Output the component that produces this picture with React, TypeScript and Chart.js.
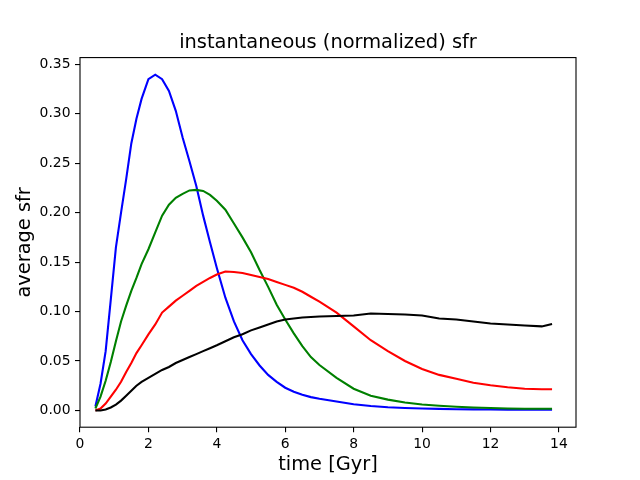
import React, { useEffect, useRef } from "react";
import { Chart, registerables } from "chart.js";

Chart.register(...registerables);

const times = [0.45, 0.6, 0.75, 0.9, 1.05, 1.2, 1.35, 1.5, 1.65, 1.8, 2.0, 2.2, 2.4, 2.6, 2.8, 3.0, 3.2, 3.4, 3.6, 3.8, 4.0, 4.25, 4.5, 4.75, 5.0, 5.25, 5.5, 5.75, 6.0, 6.25, 6.5, 6.75, 7.0, 7.5, 8.0, 8.5, 9.0, 9.5, 10.0, 10.5, 11.0, 11.5, 12.0, 12.5, 13.0, 13.5, 13.8];

const blueSfr = [0.004, 0.027, 0.06, 0.112, 0.165, 0.2, 0.234, 0.27, 0.295, 0.315, 0.335, 0.3395, 0.335, 0.323, 0.303, 0.276, 0.252, 0.227, 0.197, 0.17, 0.144, 0.114, 0.09, 0.071, 0.057, 0.0455, 0.036, 0.029, 0.023, 0.019, 0.016, 0.0135, 0.0118, 0.009, 0.0063, 0.0045, 0.0033, 0.0025, 0.002, 0.0016, 0.0013, 0.0011, 0.001, 0.0009, 0.0008, 0.0007, 0.0007];

const greenSfr = [0.002, 0.014, 0.03, 0.049, 0.07, 0.09, 0.106, 0.121, 0.134, 0.148, 0.163, 0.18, 0.197, 0.208, 0.215, 0.219, 0.2225, 0.223, 0.222, 0.218, 0.212, 0.203, 0.189, 0.175, 0.16, 0.142, 0.125, 0.107, 0.092, 0.078, 0.065, 0.054, 0.046, 0.033, 0.022, 0.015, 0.011, 0.008, 0.006, 0.0048, 0.0038, 0.003, 0.0025, 0.002, 0.0018, 0.0017, 0.0017];

const redSfr = [0, 0.002, 0.007, 0.014, 0.021, 0.029, 0.039, 0.048, 0.058, 0.066, 0.077, 0.087, 0.099, 0.105, 0.111, 0.116, 0.121, 0.126, 0.13, 0.134, 0.1375, 0.1405, 0.14, 0.139, 0.137, 0.135, 0.133, 0.13, 0.127, 0.124, 0.12, 0.115, 0.11, 0.099, 0.085, 0.071, 0.06, 0.05, 0.042, 0.036, 0.032, 0.028, 0.0255, 0.0235, 0.022, 0.0215, 0.0215];

const blackSfr = [0, 0, 0.001, 0.003, 0.006, 0.01, 0.015, 0.02, 0.025, 0.029, 0.033, 0.037, 0.041, 0.044, 0.048, 0.051, 0.054, 0.057, 0.06, 0.063, 0.066, 0.07, 0.074, 0.077, 0.081, 0.084, 0.087, 0.09, 0.092, 0.093, 0.094, 0.0945, 0.095, 0.0955, 0.096, 0.098, 0.0975, 0.097, 0.096, 0.093, 0.092, 0.09, 0.088, 0.087, 0.086, 0.085, 0.0875];

const xTicks = [0, 2, 4, 6, 8, 10, 12, 14];
const yTicks = [0, 0.05, 0.1, 0.15, 0.2, 0.25, 0.3, 0.35];

const FONT = "'DejaVu Sans', sans-serif";

const framePlugin = {
  id: "frame",
  afterDraw(chart: any) {
    const { ctx, chartArea } = chart;
    ctx.save();
    ctx.strokeStyle = "#000";
    ctx.lineWidth = 1.1;
    ctx.strokeRect(chartArea.left, chartArea.top, chartArea.right - chartArea.left, chartArea.bottom - chartArea.top);
    ctx.restore();
  },
};

export default function App() {
  const ref = useRef<HTMLCanvasElement | null>(null);

  useEffect(() => {
    document.body.style.margin = "0";
    const mk = (vals: number[]) => times.map((t, i) => ({ x: t, y: vals[i] }));
    const ds = (label: string, vals: number[], color: string, order: number) => ({
      label,
      data: mk(vals),
      borderColor: color,
      backgroundColor: color,
      borderWidth: 2.1,
      pointRadius: 0,
      tension: 0,
      fill: false,
      order,
    });
    const chart = new Chart(ref.current as HTMLCanvasElement, {
      type: "line",
      data: {
        datasets: [
          ds("blue", blueSfr, "#0000ff", 4),
          ds("green", greenSfr, "#008000", 3),
          ds("red", redSfr, "#ff0000", 2),
          ds("black", blackSfr, "#000000", 1),
        ],
      },
      options: {
        animation: false,
        responsive: false,
        layout: { padding: { left: 0, right: 64, top: 0, bottom: 0 } },
        plugins: {
          legend: { display: false },
          tooltip: { enabled: false },
          title: {
            display: true,
            fullSize: false,
            text: "instantaneous (normalized) sfr",
            color: "#000",
            font: { family: FONT, size: 19.4, weight: "normal" },
            padding: { top: 31.5, bottom: 2.8 },
          },
        },
        scales: {
          x: {
            type: "linear",
            min: 0,
            max: 14.5,
            afterBuildTicks: (scale: any) => {
              scale.ticks = xTicks.map((v) => ({ value: v }));
            },
            afterFit: (scale: any) => {
              scale.height = 52.8;
            },
            grid: { drawOnChartArea: false, drawTicks: true, tickLength: 5, color: "#000", lineWidth: 1.1 },
            border: { display: false },
            ticks: {
              color: "#000",
              font: { family: FONT, size: 13.9 },
              padding: 4,
              maxRotation: 0,
              autoSkip: false,
              callback: (v: any) => String(v),
            },
            title: {
              display: true,
              text: "time [Gyr]",
              color: "#000",
              font: { family: FONT, size: 19.4 },
              padding: { top: 0, bottom: 3.4 },
            },
          },
          y: {
            type: "linear",
            min: -0.0169,
            max: 0.3568,
            afterBuildTicks: (scale: any) => {
              scale.ticks = yTicks.map((v) => ({ value: v }));
            },
            afterFit: (scale: any) => {
              scale.width = 80;
            },
            grid: { drawOnChartArea: false, drawTicks: true, tickLength: 5, color: "#000", lineWidth: 1.1 },
            border: { display: false },
            ticks: {
              color: "#000",
              font: { family: FONT, size: 13.9 },
              padding: 4.5,
              autoSkip: false,
              callback: (v: any) => Number(v).toFixed(2),
            },
            title: {
              display: true,
              text: "average sfr",
              color: "#000",
              font: { family: FONT, size: 19.4 },
              padding: { top: 13, bottom: 0 },
            },
          },
        },
      },
      plugins: [framePlugin],
    });
    return () => chart.destroy();
  }, []);

  return (
    <div style={{ position: "absolute", left: 0, top: 0, width: 640, height: 480, background: "#fff" }}>
      <canvas ref={ref} width={640} height={480} style={{ width: 640, height: 480, display: "block" }} />
    </div>
  );
}
